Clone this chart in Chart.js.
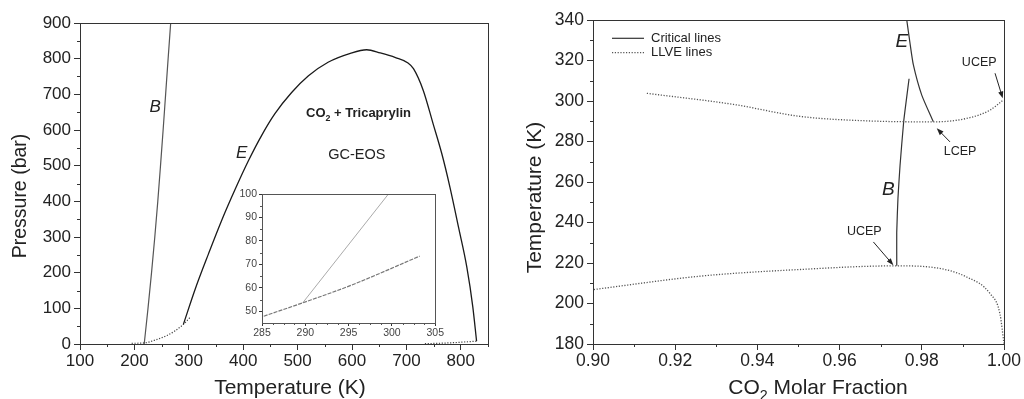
<!DOCTYPE html>
<html lang="en">
<head>
<meta charset="UTF-8" />
<title>CO2 + Tricaprylin phase diagram</title>
<script src="https://cdn.jsdelivr.net/npm/chart.js@4"></script>
<style>
  body { margin: 0; background: #fff; width: 1024px; height: 399px; overflow: hidden; position: relative; }
  canvas { position: absolute; }
  #left { left: 0; top: 0; }
  #inset { left: 225px; top: 185px; }
  #right { left: 500px; top: 0; }
</style>
</head>
<body>
<canvas id="left" width="500" height="399"></canvas>
<canvas id="right" width="524" height="399"></canvas>
<canvas id="inset" width="220" height="155"></canvas>
<script>
// left panel, P-T projection
const bT = [218, 225, 231.5, 237.5, 243, 248, 252.8, 257.4, 262, 266.7];
const bP = [0, 100, 200, 300, 400, 500, 600, 700, 800, 900];
const eT = [290, 312, 336, 360, 385, 410, 434, 458, 489, 520, 556, 597, 627, 652, 680, 703, 713, 731, 749, 765, 780, 796, 811, 822, 829];
const eP = [55, 155, 252, 345, 433, 515, 585, 645, 705, 752, 790, 815, 825, 816, 803, 788, 772, 711, 618, 534, 440, 326, 216, 105, 8];
const llvLowT = [195, 218, 240, 260, 275, 290, 302];
const llvLowP = [2, 3, 12, 24, 37, 55, 74];
const llvHighT = [734, 760, 790, 810, 831];
const llvHighP = [1, 2, 4, 6, 8];
const leftXTicks = [100, 200, 300, 400, 500, 600, 700, 800];
const leftXMinor = [150, 250, 350, 450, 550, 650, 750, 850];
const leftYTicks = [0, 100, 200, 300, 400, 500, 600, 700, 800, 900];
const leftYMinor = [50, 150, 250, 350, 450, 550, 650, 750, 850];

// inset, zoom near 290 K
const inLlvT = [285.2, 289.7, 295.3, 303.2];
const inLlvP = [47.9, 53.6, 61.1, 73.5];
const inCritT = [289.7, 299.6];
const inCritP = [53.6, 100];
const insetXTicks = [285, 290, 295, 300, 305];
const insetXMinor = [286.25, 287.5, 288.75, 291.25, 292.5, 293.75, 296.25, 297.5, 298.75, 301.25, 302.5, 303.75];
const insetYTicks = [50, 60, 70, 80, 90, 100];
const insetYMinor = [55, 65, 75, 85, 95];

// right panel, T-x projection
const upX = [0.9131, 0.9342, 0.9504, 0.9666, 0.9828, 0.9909, 0.9966, 0.9998];
const upT = [303.8, 298.3, 292.4, 290.2, 289.7, 291.4, 295.5, 300.5];
const loX = [0.9002, 0.9261, 0.9504, 0.9739, 0.9828, 0.9909, 0.9966, 0.999, 1.0];
const loT = [206.9, 213.5, 216.8, 218.6, 217.8, 213.1, 204.9, 195, 180.2];
const critBX = [0.97391, 0.97390, 0.97420, 0.97470, 0.97560, 0.97690];
const critBT = [218.6, 235, 252, 268, 290, 311];
const critEX = [0.97634, 0.9771, 0.97795, 0.97999, 0.98281];
const critET = [340, 329, 317.8, 302.9, 289.7];
const rightXTicks = [0.90, 0.92, 0.94, 0.96, 0.98, 1.00];
const rightXMinor = [0.91, 0.93, 0.95, 0.97, 0.99];
const rightYTicks = [180, 200, 220, 240, 260, 280, 300, 320, 340];
const rightYMinor = [190, 210, 230, 250, 270, 290, 310, 330];

const FONT = '"Liberation Sans", Arial, sans-serif';
const INK = '#222';
Chart.defaults.font.family = FONT;
Chart.defaults.color = INK;

const pts = (xs, ys) => xs.map((v, i) => ({ x: v, y: ys[i] }));

function drawParts(ctx, parts, cx, cy, size, weight, style) {
  const fontFor = p => [style, weight, `${p.sub ? size * 0.68 : size}px`, FONT].filter(Boolean).join(' ');
  let total = 0;
  parts.forEach(p => { ctx.font = fontFor(p); total += ctx.measureText(p.t).width; });
  let x = cx - total / 2;
  ctx.textAlign = 'left';
  ctx.textBaseline = 'middle';
  parts.forEach(p => {
    ctx.font = fontFor(p);
    ctx.fillText(p.t, x, p.sub ? cy + size * 0.38 : cy);
    x += ctx.measureText(p.t).width;
  });
}

const decor = {
  id: 'decor',
  afterDraw(chart, args, opts) {
    const { ctx, chartArea: a, scales: { x, y } } = chart;
    ctx.save();
    ctx.strokeStyle = opts.frame || '#333';
    ctx.lineWidth = 1;
    ctx.strokeRect(Math.round(a.left) + 0.5, Math.round(a.top) + 0.5, Math.round(a.right - a.left), Math.round(a.bottom - a.top));

    // minor ticks
    ctx.beginPath();
    (opts.minorX || []).forEach(v => {
      const px = Math.round(x.getPixelForValue(v)) + 0.5;
      ctx.moveTo(px, a.bottom); ctx.lineTo(px, a.bottom + opts.minorLen);
    });
    (opts.minorY || []).forEach(v => {
      const py = Math.round(y.getPixelForValue(v)) + 0.5;
      ctx.moveTo(a.left, py); ctx.lineTo(a.left - opts.minorLen, py);
    });
    ctx.stroke();

    ctx.fillStyle = INK;
    (opts.notes || []).forEach(n => {
      drawParts(ctx, n.parts, x.getPixelForValue(n.x), y.getPixelForValue(n.y), n.size, n.weight, n.style);
    });

    ctx.strokeStyle = '#222';
    (opts.arrows || []).forEach(ar => {
      const x0 = x.getPixelForValue(ar[0]), y0 = y.getPixelForValue(ar[1]);
      const x1 = x.getPixelForValue(ar[2]), y1 = y.getPixelForValue(ar[3]);
      const ang = Math.atan2(y1 - y0, x1 - x0);
      ctx.beginPath(); ctx.moveTo(x0, y0); ctx.lineTo(x1 - 5 * Math.cos(ang), y1 - 5 * Math.sin(ang)); ctx.stroke();
      ctx.beginPath();
      ctx.moveTo(x1, y1);
      ctx.lineTo(x1 - 7 * Math.cos(ang) + 2.6 * Math.sin(ang), y1 - 7 * Math.sin(ang) - 2.6 * Math.cos(ang));
      ctx.lineTo(x1 - 7 * Math.cos(ang) - 2.6 * Math.sin(ang), y1 - 7 * Math.sin(ang) + 2.6 * Math.cos(ang));
      ctx.closePath(); ctx.fill();
    });

    if (opts.legend) {
      const lg = opts.legend;
      lg.items.forEach((it, i) => {
        const ly = a.top + lg.y + i * lg.gap;
        ctx.beginPath();
        ctx.strokeStyle = it.color;
        ctx.lineWidth = it.width;
        ctx.setLineDash(it.dash || []);
        ctx.moveTo(a.left + lg.x, ly); ctx.lineTo(a.left + lg.x + lg.len, ly);
        ctx.stroke();
        ctx.setLineDash([]);
        ctx.font = `${lg.size}px ${FONT}`;
        ctx.textAlign = 'left'; ctx.textBaseline = 'middle';
        ctx.fillText(it.label, a.left + lg.x + lg.len + 7, ly);
      });
    }

    // axis titles (Origin puts them a bit off-centre)
    ctx.fillStyle = INK;
    if (opts.xTitle) {
      const t = opts.xTitle;
      drawParts(ctx, t.parts, (a.left + a.right) / 2 + t.dx, t.y, t.size);
    }
    if (opts.yTitle) {
      const t = opts.yTitle;
      ctx.save();
      ctx.translate(t.x, (a.top + a.bottom) / 2 + t.dy);
      ctx.rotate(-Math.PI / 2);
      drawParts(ctx, t.parts, 0, 0, t.size);
      ctx.restore();
    }
    ctx.restore();
  }
};

function axis(o) {
  return {
    type: 'linear',
    min: o.min, max: o.max,
    afterBuildTicks: s => { s.ticks = o.ticks.map(v => ({ value: v })); },
    afterFit: s => { if (o.width) s.width = o.width; if (o.height) s.height = o.height; },
    grid: { drawOnChartArea: false, tickLength: o.tickLen, tickColor: '#333', tickWidth: 1 },
    border: { color: '#333', width: 1 },
    ticks: { font: { size: o.fontSize }, color: o.tickColor || INK, padding: o.pad, callback: o.fmt || (v => String(v)), maxRotation: 0, autoSkip: false },
    title: { display: false }
  };
}

// smooth: 'mono' = monotone along x, number = bezier tension
const line = (label, data, color, width, dash, smooth) => ({
  label, data, showLine: true, pointRadius: 0, borderColor: color, borderWidth: width,
  borderDash: dash || [], fill: false,
  cubicInterpolationMode: smooth === 'mono' ? 'monotone' : 'default',
  tension: typeof smooth === 'number' ? smooth : 0
});

const baseOpts = {
  responsive: false, animation: false, devicePixelRatio: 1,
  plugins: { legend: { display: false }, tooltip: { enabled: false } }
};

new Chart(document.getElementById('left'), {
  type: 'scatter',
  data: {
    datasets: [
      line('B', pts(bT, bP), '#555', 1.2, null, 'mono'),
      line('E', pts(eT, eP), '#1a1a1a', 1.3, null, 'mono'),
      line('LLVE low', pts(llvLowT, llvLowP), '#444', 1.2, [1.2, 1.6], 'mono'),
      line('LLVE high', pts(llvHighT, llvHighP), '#444', 1.2, [1.2, 1.6], 'mono')
    ]
  },
  options: {
    ...baseOpts,
    layout: { padding: { left: 0, top: 23, right: 12, bottom: 0 } },
    scales: {
      x: axis({ min: 100, max: 850, ticks: leftXTicks, height: 55, tickLen: 6, fontSize: 17, pad: 1 }),
      y: axis({ min: 0, max: 900, ticks: leftYTicks, width: 80, tickLen: 6, fontSize: 17, pad: 3 })
    },
    plugins: {
      ...baseOpts.plugins,
      decor: {
        minorX: leftXMinor, minorY: leftYMinor, minorLen: 3,
        notes: [
          { x: 238, y: 664, parts: [{ t: 'B' }], size: 17, style: 'italic' },
          { x: 397, y: 535, parts: [{ t: 'E' }], size: 17, style: 'italic' },
          { x: 612, y: 647, parts: [{ t: 'CO' }, { t: '2', sub: true }, { t: ' + Tricaprylin' }], size: 13, weight: 'bold' },
          { x: 609, y: 529, parts: [{ t: 'GC-EOS' }], size: 14.5 }
        ],
        xTitle: { parts: [{ t: 'Temperature (K)' }], dx: 6, y: 388, size: 21 },
        yTitle: { parts: [{ t: 'Pressure (bar)' }], x: 21, dy: 12.5, size: 19.5 }
      }
    }
  },
  plugins: [decor]
});

new Chart(document.getElementById('inset'), {
  type: 'scatter',
  data: {
    datasets: [
      line('LLVE', pts(inLlvT, inLlvP), '#777', 1.2, [4, 1.2], 'mono'),
      line('Critical', pts(inCritT, inCritP), '#aaa', 1, null, 0)
    ]
  },
  options: {
    ...baseOpts,
    layout: { padding: { left: 0, top: 9, right: 6, bottom: 0 } },
    scales: {
      x: axis({ min: 285, max: 305, ticks: insetXTicks, height: 17, tickLen: 3, fontSize: 10.5, pad: 1, tickColor: '#444' }),
      y: axis({ min: 45, max: 100, ticks: insetYTicks, width: 37, tickLen: 3, fontSize: 10.5, pad: 2, tickColor: '#444' })
    },
    plugins: {
      ...baseOpts.plugins,
      decor: { frame: '#555', minorX: insetXMinor, minorY: insetYMinor, minorLen: 2 }
    }
  },
  plugins: [decor]
});

new Chart(document.getElementById('right'), {
  type: 'scatter',
  data: {
    datasets: [
      line('LLVE lines', pts(upX, upT), '#555', 1.3, [1.2, 1.6], 'mono'),
      line('LLVE lines', pts(loX, loT), '#555', 1.3, [1.2, 1.6], 'mono'),
      line('Critical lines', pts(critBX, critBT), '#333', 1.2, null, 0.15),
      line('Critical lines', pts(critEX, critET), '#333', 1.2, null, 0.2)
    ]
  },
  options: {
    ...baseOpts,
    layout: { padding: { left: 0, top: 20, right: 20, bottom: 0 } },
    scales: {
      x: axis({ min: 0.90, max: 1.00, ticks: rightXTicks, height: 55, tickLen: 6, fontSize: 17.5, pad: 1, fmt: v => v.toFixed(2) }),
      y: axis({ min: 180, max: 340, ticks: rightYTicks, width: 93, tickLen: 6, fontSize: 17.5, pad: 3 })
    },
    plugins: {
      ...baseOpts.plugins,
      decor: {
        minorX: rightXMinor, minorY: rightYMinor, minorLen: 3,
        notes: [
          { x: 0.97513, y: 329.3, parts: [{ t: 'E' }], size: 19, style: 'italic' },
          { x: 0.97187, y: 256, parts: [{ t: 'B' }], size: 19, style: 'italic' },
          { x: 0.99397, y: 319, parts: [{ t: 'UCEP' }], size: 12.5 },
          { x: 0.98930, y: 274.8, parts: [{ t: 'LCEP' }], size: 12.5 },
          { x: 0.96600, y: 235.4, parts: [{ t: 'UCEP' }], size: 12.5 }
        ],
        arrows: [
          [0.99782, 313.7, 0.99970, 301.3],
          [0.98686, 279.8, 0.98364, 286.5],
          [0.96822, 230.4, 0.97309, 218.9]
        ],
        legend: {
          x: 19, y: 18.3, gap: 14.4, len: 32, size: 13,
          items: [
            { label: 'Critical lines', color: '#333', width: 1.2 },
            { label: 'LLVE lines', color: '#555', width: 1.3, dash: [1.2, 1.6] }
          ]
        },
        xTitle: { parts: [{ t: 'CO' }, { t: '2', sub: true }, { t: ' Molar Fraction' }], dx: 19.5, y: 388, size: 21 },
        yTitle: { parts: [{ t: 'Temperature (K)' }], x: 35, dy: 15.5, size: 21 }
      }
    }
  },
  plugins: [decor]
});
</script>
</body>
</html>
